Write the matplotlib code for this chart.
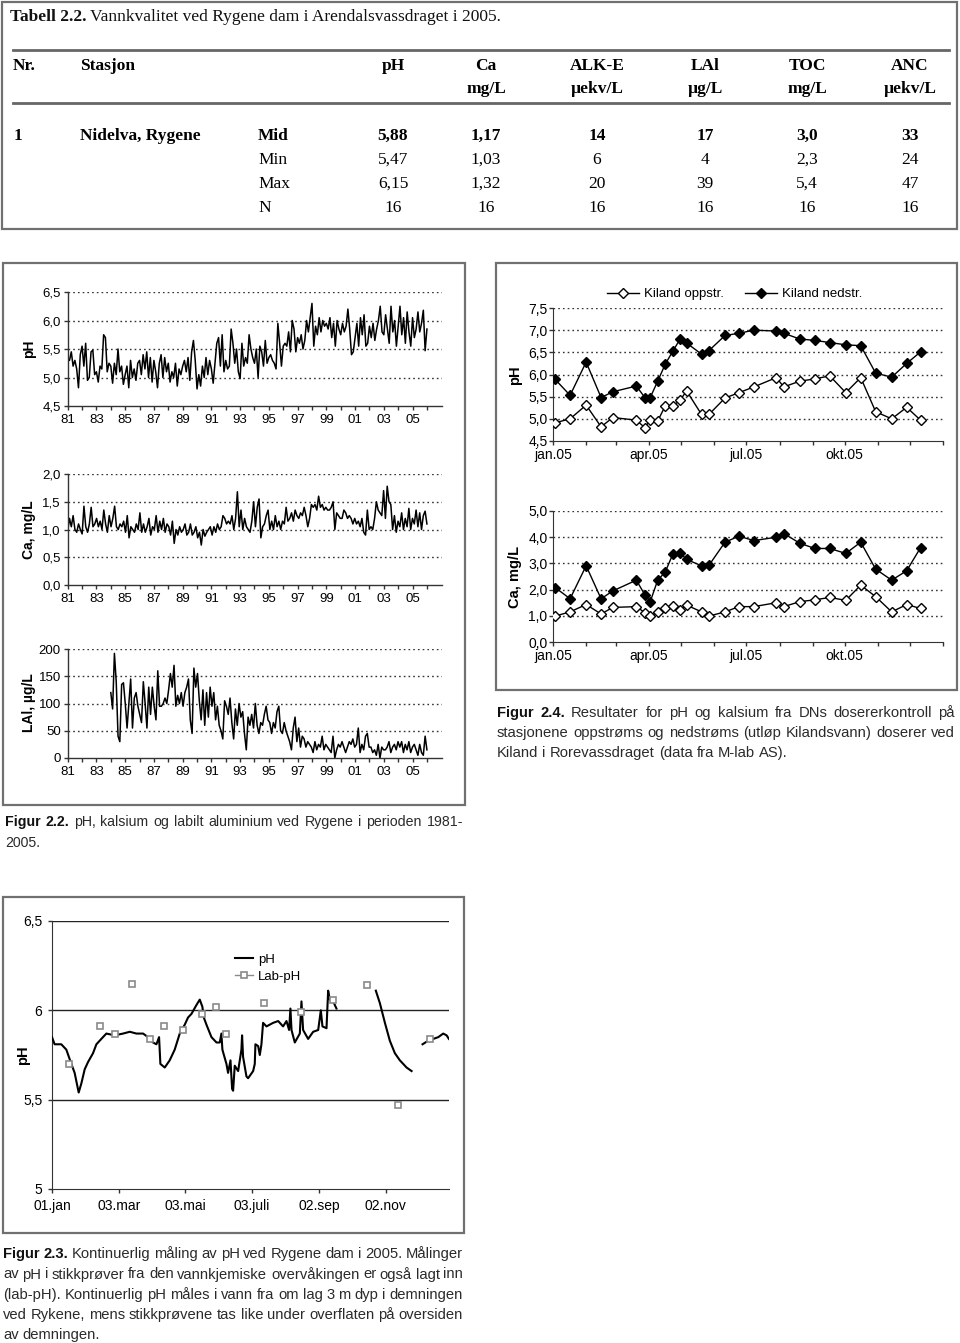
import numpy as np
import matplotlib
matplotlib.use('Agg')
import matplotlib.pyplot as plt
import matplotlib.dates as mdates
from matplotlib.lines import Line2D
from matplotlib.patches import Rectangle
import datetime as dt

plt.rcParams['font.family'] = ['Liberation Sans', 'DejaVu Sans']

# ---------------- DATA ----------------
# Table 2.2
table_cols = ['pH', 'Ca', 'ALK-E', 'LAl', 'TOC', 'ANC']
table_units = ['', 'mg/L', 'µekv/L', 'µg/L', 'mg/L', 'µekv/L']
table_stats = ['Mid', 'Min', 'Max', 'N']
row_mid = ['5,88', '1,17', '14', '17', '3,0', '33']
row_min = ['5,47', '1,03', '6', '4', '2,3', '24']
row_max = ['6,15', '1,32', '20', '39', '5,4', '47']
row_n = ['16', '16', '16', '16', '16', '16']

# Figure 2.2 - long series at Rygene (8 samples per year)
ph_long = [
    5.35, 5.30, 5.45, 5.20, 5.30, 5.15, 4.82, 5.40,
    5.55, 5.20, 5.60, 4.95, 5.00, 5.45, 5.48, 5.05,
    5.10, 4.92, 5.20, 5.15, 5.75, 5.70, 5.10, 5.25,
    5.20, 4.90, 5.25, 5.05, 5.50, 5.10, 5.20, 4.88,
    5.05, 5.20, 4.82, 5.30, 5.00, 5.15, 4.95, 5.25,
    5.30, 5.05, 5.40, 5.15, 5.45, 5.00, 5.35, 4.92,
    5.30, 5.10, 4.82, 5.25, 5.40, 5.00, 5.35, 5.10,
    5.25, 4.92, 5.10, 5.00, 5.25, 4.85, 5.15, 5.05,
    5.20, 5.30, 5.10, 5.35, 4.95, 5.45, 5.65, 5.30,
    4.80, 5.05, 4.85, 5.20, 5.00, 5.35, 5.05, 5.30,
    5.15, 4.90, 5.25, 5.60, 5.70, 5.20, 5.75, 5.10,
    5.30, 5.15, 5.20, 5.85, 5.60, 5.25, 5.50, 5.10,
    4.98, 5.60, 5.20, 5.35, 5.25, 5.75, 5.50, 5.35,
    5.25, 5.50, 5.00, 5.55, 5.45, 5.20, 5.65, 5.25,
    5.35, 5.40, 5.30, 5.25, 5.15, 5.95, 5.60, 5.20,
    5.55, 5.60, 5.55, 5.80, 5.45, 6.00, 5.85, 5.45,
    5.70, 5.60, 5.75, 5.50, 5.65, 6.00, 5.80, 6.05,
    6.30, 5.55, 5.90, 5.75, 6.05, 5.80, 6.00, 5.90,
    5.95, 5.85, 6.05, 5.70, 5.95, 5.55, 6.00, 5.85,
    5.75, 5.95, 5.80, 5.90, 6.20, 5.85, 5.40, 5.45,
    5.70, 5.95, 5.55, 6.05, 5.75, 6.10, 5.55, 5.60,
    5.90, 5.70, 5.95, 5.65, 5.85, 6.00, 6.25, 5.80,
    5.75, 6.10, 5.85, 5.60, 6.25, 5.80, 6.00, 5.55,
    5.90, 6.25, 5.75, 6.05, 5.60, 6.15, 5.80, 5.55,
    6.05, 5.70, 5.85, 6.15, 5.80, 5.95, 6.18, 5.47, 5.85,
]
ca_long = [
    0.98, 1.20, 1.05, 1.25, 1.00, 0.95, 1.10, 1.00,
    0.92, 1.42, 1.05, 0.95, 1.10, 1.40, 1.05, 1.10,
    1.20, 1.05, 1.15, 1.00, 1.35, 1.10, 0.95, 1.25,
    1.05, 1.20, 1.42, 1.05, 1.00, 1.10, 1.05, 1.15,
    0.95, 1.25, 0.85, 1.05, 1.00, 0.95, 1.10, 1.00,
    1.30, 0.95, 1.10, 0.95, 1.05, 1.20, 0.90, 1.05,
    1.00, 1.25, 0.95, 1.15, 1.00, 1.20, 0.95, 1.10,
    1.05, 0.90, 1.15, 0.75, 1.00, 0.90, 1.05, 0.95,
    1.00, 1.10, 0.90, 0.95, 1.10, 0.90, 0.95, 1.05,
    0.85, 0.95, 0.72, 1.00, 0.88, 0.95, 1.00, 1.05,
    0.90, 1.05, 0.95, 1.10, 1.00, 1.05, 1.25, 1.20,
    1.10, 1.15, 1.10, 1.25, 1.00, 1.20, 1.68, 1.05,
    1.35, 1.00, 1.20, 1.05, 1.00, 0.95, 1.15, 1.50,
    1.05, 1.40, 1.55, 0.85, 1.05, 1.10, 1.25, 1.35,
    1.00, 1.15, 1.00, 1.25, 1.05, 1.15, 1.00, 1.15,
    1.10, 1.40, 1.15, 1.20, 1.30, 1.15, 1.35, 1.25,
    1.20, 1.30, 1.25, 1.40, 1.25, 1.05, 1.20, 1.45,
    1.40, 1.45, 1.35, 1.60, 1.40, 1.45, 1.35, 1.40,
    1.35, 1.35, 1.40, 1.50, 1.00, 1.30, 1.25, 1.20,
    1.20, 1.35, 1.30, 1.20, 1.25, 1.20, 1.10, 1.20,
    1.10, 1.15, 1.05, 1.20, 0.95, 0.90, 1.35, 1.00,
    1.05, 1.00, 1.20, 1.50, 1.35, 1.30, 1.25, 1.70,
    1.20, 1.78, 1.50, 1.45, 1.00, 1.25, 0.95, 1.15,
    1.05, 1.30, 1.00, 1.20, 1.05, 1.38, 1.00, 1.20,
    1.10, 1.35, 1.05, 1.30, 1.00, 1.25, 1.33, 1.10,
]
lal_long = [
    120, 90, 192, 140, 40, 30, 135, 138,
    100, 55, 100, 145, 55, 110, 120, 95,
    80, 65, 140, 100, 55, 130, 80, 130,
    95, 70, 160, 95, 95, 100, 110, 100,
    125, 155, 130, 170, 95, 115, 100, 120,
    95, 120, 130, 145, 70, 45, 165, 130,
    155, 105, 70, 125, 60, 120, 75, 130,
    95, 120, 70, 95, 60, 50, 35, 105,
    95, 80, 110, 65, 35, 90, 60, 100,
    75, 85, 45, 15, 75, 60, 80, 55,
    100, 60, 45, 65, 60, 80, 95, 70,
    65, 45, 65, 55, 85, 95, 50, 45,
    65, 50, 40, 30, 15, 55, 75, 30,
    55, 20, 40, 35, 20, 30, 25, 20,
    10, 30, 15, 25, 20, 40, 15, 25,
    20, 15, 10, 40, 0, 15, 25, 20,
    30, 20, 10, 20, 30, 25, 35, 20,
    25, 55, 10, 25, 15, 40, 45, 20,
    20, 10, 15, 5, 25, 0, 20, 15,
    15, 20, 30, 10, 20, 25, 15, 30,
    20, 30, 10, 25, 15, 30, 10, 20,
    25, 15, 5, 25, 10, 5, 40, 15,
]
long_start, long_end = 1981.0, 2006.0
lal_start = 1984.0
year_ticks = list(range(1981, 2007, 2))

# Figure 2.4 - Kiland
kiland_dates = ['2005-01-03', '2005-01-17', '2005-02-01', '2005-02-15', '2005-02-26',
                '2005-03-20', '2005-03-28', '2005-04-02', '2005-04-09', '2005-04-16',
                '2005-04-23', '2005-04-30', '2005-05-06', '2005-05-20', '2005-05-27',
                '2005-06-11', '2005-06-24', '2005-07-08', '2005-07-29', '2005-08-05',
                '2005-08-20', '2005-09-03', '2005-09-17', '2005-10-02', '2005-10-16',
                '2005-10-30', '2005-11-14', '2005-11-28', '2005-12-11']
ph_oppstr = [4.91, 5.00, 5.31, 4.82, 5.03, 4.97, 4.80, 4.98, 4.95, 5.29, 5.29, 5.42, 5.63,
             5.10, 5.10, 5.47, 5.59, 5.72, 5.93, 5.72, 5.85, 5.90, 5.97, 5.59, 5.93, 5.16,
             5.00, 5.26, 4.97]
ph_nedstr = [5.89, 5.53, 6.28, 5.48, 5.61, 5.74, 5.48, 5.48, 5.85, 6.23, 6.52, 6.80, 6.71,
             6.46, 6.54, 6.88, 6.93, 7.00, 6.98, 6.93, 6.80, 6.77, 6.72, 6.67, 6.65, 6.03,
             5.94, 6.25, 6.51]
ca_oppstr = [0.99, 1.15, 1.43, 1.07, 1.32, 1.35, 1.12, 0.99, 1.15, 1.28, 1.38, 1.24, 1.41,
             1.15, 0.99, 1.15, 1.35, 1.35, 1.50, 1.35, 1.54, 1.61, 1.70, 1.59, 2.17, 1.73,
             1.15, 1.43, 1.28]
ca_nedstr = [2.08, 1.65, 2.91, 1.65, 1.95, 2.36, 1.80, 1.54, 2.36, 2.67, 3.34, 3.41, 3.15,
             2.91, 2.93, 3.81, 4.04, 3.87, 4.00, 4.14, 3.77, 3.57, 3.57, 3.38, 3.81, 2.78,
             2.36, 2.72, 3.60]
kiland_month_labels = ['jan.05', 'apr.05', 'jul.05', 'okt.05']

# Figure 2.3 - continuous pH 2005 (day of year; nan = gap)
nan = np.nan
cont_day = [0, 2.4, 8.5, 13.1, 17.7, 20.7, 24.4, 26.8, 29.9, 32.9, 37.5, 40.6, 45.1, 49.7,
            57.3, 65.0, 71.1, 77.2, 83.3, 87.8, 92.4, 95.5, 97.9, 99.1, 103.1, 107.6, 112.2,
            116.8, 121.4, 124.4, 127.5, 132.1, 135.1, 137.5, 138.8, 141.2, 145.8, 150.4,
            153.4, 154.9, 155.8, 159.5, 161.0, 163.2, 164.7, 165.6, 167.1, 170.2, 173.2,
            173.8, 174.7, 177.8, 179.3, 183.9, 185.4, 186.0, 188.5, 190.0, 191.5, 193.0,
            196.1, 202.2, 206.8, 211.3, 214.4, 216.8, 218.0, 219.0, 222.0, 226.6, 228.1,
            229.6, 234.2, 238.8, 243.4, 245.8, 247.3, 251.0, 252.5, 254.0, 257.1, 260.1,
            nan, 296.1, 299.8, 304.4, 308.9, 313.5, 318.1, 324.2, 328.8,
            nan, 338.8, 344.0, 348.6, 353.2, 357.7, 360.8, 362.9]
cont_ph = [5.85, 5.81, 5.81, 5.78, 5.70, 5.65, 5.54, 5.59, 5.67, 5.71, 5.76, 5.81, 5.84, 5.87,
           5.86, 5.87, 5.88, 5.87, 5.87, 5.85, 5.82, 5.81, 5.85, 5.70, 5.68, 5.72, 5.78,
           5.87, 5.92, 5.96, 5.98, 6.03, 6.06, 6.02, 5.96, 5.92, 5.85, 5.82,
           5.82, 5.87, 5.78, 5.70, 5.65, 5.72, 5.56, 5.55, 5.69, 5.66, 5.78,
           5.86, 5.74, 5.63, 5.62, 5.66, 5.70, 5.81, 5.80, 5.75, 5.81, 5.93,
           5.91, 5.93, 5.94, 5.91, 5.94, 5.89, 6.01, 5.89, 5.82, 5.87, 6.05,
           5.89, 5.84, 5.88, 5.89, 6.00, 5.91, 5.90, 6.11, 6.06, 6.05, 6.01,
           nan, 6.11, 6.04, 5.93, 5.83, 5.76, 5.72, 5.68, 5.66,
           nan, 5.81, 5.83, 5.84, 5.85, 5.87, 5.86, 5.84]
lab_day = [16, 44, 58, 73, 90, 102, 120, 137, 150, 159, 194, 228, 257, 288, 316, 346]
lab_ph = [5.70, 5.91, 5.87, 6.15, 5.84, 5.91, 5.89, 5.98, 6.02, 5.87, 6.04, 5.99, 6.06,
          6.14, 5.47, 5.84]
cont_tick_days = [0, 61, 122, 183, 244, 305]
cont_tick_labels = ['01.jan', '03.mar', '03.mai', '03.juli', '02.sep', '02.nov']

# ---------------- FIGURE ----------------
W, H = 960, 1343
fig = plt.figure(figsize=(W / 100, H / 100), dpi=100)
R = fig.canvas.get_renderer()


def fx(x):
    return x / W


def fy(y):
    return 1 - y / H


def rect(x0, y0, x1, y1):
    return [x0 / W, 1 - y1 / H, (x1 - x0) / W, (y1 - y0) / H]


# frames
for (x0, y0, x1, y1) in [(2, 2, 957, 229), (3, 263, 465, 805), (496, 263, 957, 690),
                         (3, 897, 464, 1233)]:
    fig.add_artist(Rectangle((fx(x0), fy(y1)), (x1 - x0) / W, (y1 - y0) / H,
                             transform=fig.transFigure, fill=False, ec='#707070', lw=1.6))

# ---------------- TABLE ----------------
SERIF = ['Liberation Serif', 'DejaVu Serif']
tfs = 12.5
t1 = fig.text(fx(10), fy(21), 'Tabell 2.2.', family=SERIF, fontweight='bold', fontsize=tfs,
              va='baseline', color='#111')
w1 = t1.get_window_extent(R).width
fig.text(fx(10 + w1 + 4), fy(21), 'Vannkvalitet ved Rygene dam i Arendalsvassdraget i 2005.',
         family=SERIF, fontsize=tfs, va='baseline', color='#111')
for yl in (50, 103):
    fig.add_artist(Line2D([fx(13), fx(949)], [fy(yl), fy(yl)], transform=fig.transFigure,
                          color='#666', lw=2))
col_x = [393, 486, 597, 705, 807, 910]
fig.text(fx(13), fy(66), 'Nr.', family=SERIF, fontsize=tfs, fontweight='bold', va='center')
fig.text(fx(80), fy(66), 'Stasjon', family=SERIF, fontsize=tfs, fontweight='bold', va='center')
for cx, c, u in zip(col_x, table_cols, table_units):
    fig.text(fx(cx), fy(66), c, family=SERIF, fontsize=tfs, fontweight='bold', ha='center', va='center')
    if u:
        fig.text(fx(cx), fy(89), u, family=SERIF, fontsize=tfs, fontweight='bold', ha='center',
                 va='center')
fig.text(fx(14), fy(136), '1', family=SERIF, fontsize=tfs, fontweight='bold', va='center')
fig.text(fx(80), fy(136), 'Nidelva, Rygene', family=SERIF, fontsize=tfs, fontweight='bold',
         va='center')
for ry, lab, row in zip([136, 160, 184, 208], table_stats, [row_mid, row_min, row_max, row_n]):
    wt = 'bold' if lab == 'Mid' else 'normal'
    fig.text(fx(258), fy(ry), lab, family=SERIF, fontsize=tfs, fontweight=wt, va='center')
    for cx, v in zip(col_x, row):
        fig.text(fx(cx), fy(ry), v, family=SERIF, fontsize=tfs, fontweight=wt, ha='center',
                 va='center')


def comma(v, nd=1):
    return f"{v:.{nd}f}".replace('.', ',')


GRID = dict(color='#333333', lw=1.0, ls=(0, (1.2, 2.2)), zorder=0)

# ---------------- FIGURE 2.2 (left panel) ----------------
def long_axis(pos, x, y, ylim, yticks, ylabels, ylabel, label_y):
    ax = fig.add_axes(pos)
    ax.plot(x, y, color='black', lw=1.1)
    ax.set_xlim(1981, 2007.07)
    ax.set_ylim(*ylim)
    ax.set_yticks(yticks)
    ax.set_yticklabels(ylabels)
    ax.set_xticks(year_ticks)
    ax.set_xticklabels([f"{yy % 100:02d}" for yy in year_ticks])
    ax.set_xticks([yy + 1 for yy in year_ticks], minor=True)
    for s in ['top', 'right']:
        ax.spines[s].set_visible(False)
    for s in ['left', 'bottom']:
        ax.spines[s].set_color('#333')
        ax.spines[s].set_linewidth(1.0)
    for yv in yticks[1:]:
        ax.axhline(yv, **GRID)
    ax.tick_params(axis='both', which='both', direction='out', length=3, width=1,
                   color='#333', labelsize=9.5, pad=3)
    ax.tick_params(axis='y', pad=2)
    fig.text(fx(29), fy(label_y), ylabel, rotation=90, ha='center', va='center',
             fontweight='bold', fontsize=10)
    return ax


xl = np.linspace(long_start, long_end, len(ph_long))
long_axis(rect(67.7, 292, 442.3, 406), xl, ph_long, (4.5, 6.5), [4.5, 5.0, 5.5, 6.0, 6.5],
          [comma(v) for v in [4.5, 5.0, 5.5, 6.0, 6.5]], 'pH', 349)
xc = np.linspace(long_start, long_end, len(ca_long))
long_axis(rect(67.7, 474, 442.3, 585), xc, ca_long, (0, 2.0), [0, 0.5, 1.0, 1.5, 2.0],
          [comma(v) for v in [0, 0.5, 1.0, 1.5, 2.0]], 'Ca, mg/L', 530)
xa = np.linspace(lal_start, long_end, len(lal_long))
long_axis(rect(67.7, 649, 442.3, 758), xa, lal_long, (0, 200), [0, 50, 100, 150, 200],
          ['0', '50', '100', '150', '200'], 'LAl, µg/L', 703)

# ---------------- FIGURE 2.4 (right panel) ----------------
kd = mdates.date2num([dt.datetime.strptime(d, '%Y-%m-%d') for d in kiland_dates])
x_lo = mdates.date2num(dt.datetime(2005, 1, 1))
x_hi = mdates.date2num(dt.datetime(2006, 1, 1))
major = mdates.date2num([dt.datetime(2005, m, 1) for m in (1, 4, 7, 10)])
minor = mdates.date2num([dt.datetime(2005, m, 1) for m in range(1, 13)] + [dt.datetime(2006, 1, 1)])


def kiland_axis(pos, up, down, ylim, yticks, ylabel, label_y):
    ax = fig.add_axes(pos)
    l1, = ax.plot(kd, up, color='black', lw=1.0, marker='D', ms=4.8, mfc='white', mec='black',
                  mew=1.0, zorder=3)
    l2, = ax.plot(kd, down, color='black', lw=1.0, marker='D', ms=4.8, mfc='black',
                  mec='black', zorder=3)
    ax.set_xlim(x_lo, x_hi)
    ax.set_ylim(*ylim)
    ax.set_yticks(yticks)
    ax.set_yticklabels([comma(v) for v in yticks])
    ax.set_xticks(major)
    ax.set_xticklabels(kiland_month_labels)
    ax.set_xticks(minor, minor=True)
    for s in ['top', 'right']:
        ax.spines[s].set_visible(False)
    for s in ['left', 'bottom']:
        ax.spines[s].set_color('#333')
    for yv in yticks[1:]:
        ax.axhline(yv, **GRID)
    ax.tick_params(axis='both', which='both', direction='out', length=3, width=1,
                   color='#333', labelsize=10, pad=2)
    ax.tick_params(axis='y', pad=1)
    fig.text(fx(515), fy(label_y), ylabel, rotation=90, ha='center', va='center',
             fontweight='bold', fontsize=10.5)
    return ax, l1, l2


ax_kp, h1, h2 = kiland_axis(rect(553, 308, 943, 441), ph_oppstr, ph_nedstr, (4.5, 7.5),
                            [4.5, 5.0, 5.5, 6.0, 6.5, 7.0, 7.5], 'pH', 375)
kiland_axis(rect(553, 511, 943, 642), ca_oppstr, ca_nedstr, (0, 5.0),
            [0.0, 1.0, 2.0, 3.0, 4.0, 5.0], 'Ca, mg/L', 577)
fig.legend([h1, h2], ['Kiland oppstr.', 'Kiland nedstr.'], loc='center',
           bbox_to_anchor=(fx(735), fy(294)), ncol=2, frameon=False, fontsize=9.5,
           handlelength=2.4, columnspacing=1.6, handletextpad=0.4, borderpad=0)

# ---------------- FIGURE 2.3 (bottom) ----------------
axb = fig.add_axes(rect(52, 921, 449, 1189))
lc, = axb.plot(cont_day, cont_ph, color='black', lw=1.5, zorder=3)
lb, = axb.plot(lab_day, lab_ph, ls='none', marker='s', ms=4, mfc='white', mec='#8a8a8a',
               mew=1.2, zorder=4)
axb.set_xlim(0, 363)
axb.set_ylim(5, 6.5)
axb.set_yticks([5, 5.5, 6, 6.5])
axb.set_yticklabels(['5', '5,5', '6', '6,5'])
axb.set_xticks(cont_tick_days)
axb.set_xticklabels(cont_tick_labels)
for s in ['top', 'right']:
    axb.spines[s].set_visible(False)
for s in ['left', 'bottom']:
    axb.spines[s].set_color('#333')
for yv in [5.5, 6, 6.5]:
    axb.axhline(yv, color='#222', lw=1.0, zorder=1)
axb.tick_params(axis='both', direction='out', length=3, width=1, color='#333', labelsize=10,
                pad=4)
fig.text(fx(23), fy(1055), 'pH', rotation=90, ha='center', va='center', fontweight='bold',
         fontsize=10.5)
lab_handle = Line2D([], [], color='#8a8a8a', lw=1.0, marker='s', ms=4, mfc='white',
                    mec='#8a8a8a', mew=1.2)
fig.legend([lc, lab_handle], ['pH', 'Lab-pH'], loc='center left',
           bbox_to_anchor=(fx(228), fy(968)), frameon=False, fontsize=9.5, handlelength=1.4,
           handletextpad=0.4, labelspacing=0.35, borderpad=0)


# ---------------- CAPTIONS ----------------
def text_line(y, x0, x1, segs, fs, justify=True):
    """y = visual centre of the line in pixels; words placed on a common baseline."""
    base = y + fs * 100 / 72 * 0.36
    words = []
    for txt, wt in segs:
        for w in txt.split():
            words.append((w, wt))
    objs, widths = [], []
    for w, wt in words:
        t = fig.text(0, fy(base), w, fontsize=fs, fontweight=wt, va='baseline', ha='left',
                     color='#111' if wt == 'bold' else '#2a2a2a')
        objs.append(t)
        widths.append(t.get_window_extent(R).width)
    sp = fs * 100 / 72 * 0.278
    if justify and len(words) > 1:
        gap = max((x1 - x0 - sum(widths)) / (len(words) - 1), 0.6 * sp)
    else:
        gap = sp
    x = x0
    for t, wd in zip(objs, widths):
        t.set_x(fx(x))
        x += wd + gap


B, N = 'bold', 'normal'
CFS = 10.6
# Figur 2.2
text_line(821, 5, 463, [('Figur 2.2.', B),
                        ('pH, kalsium og labilt aluminium ved Rygene i perioden 1981-', N)], 10.2)
text_line(842, 5, 463, [('2005.', N)], 10.2, justify=False)
# Figur 2.4
text_line(712, 497, 955, [('Figur 2.4.', B),
                          ('Resultater for pH og kalsium fra DNs dosererkontroll på', N)], CFS)
text_line(732, 497, 955, [('stasjonene oppstrøms og nedstrøms (utløp Kilandsvann) doserer ved', N)], CFS)
text_line(752, 497, 955, [('Kiland i Rorevassdraget (data fra M-lab AS).', N)], CFS, justify=False)
# Figur 2.3
cap23 = [
    [('Figur 2.3.', B), ('Kontinuerlig måling av pH ved Rygene dam i 2005. Målinger', N)],
    [('av pH i stikkprøver fra den vannkjemiske overvåkingen er også lagt inn', N)],
    [('(lab-pH). Kontinuerlig pH måles i vann fra om lag 3 m dyp i demningen', N)],
    [('ved Rykene, mens stikkprøvene tas like under overflaten på oversiden', N)],
    [('av demningen.', N)],
]
for i, segs in enumerate(cap23):
    text_line(1253 + i * 20.2, 3, 463, segs, CFS, justify=(i < 4))

fig.savefig('out.png', dpi=100)
